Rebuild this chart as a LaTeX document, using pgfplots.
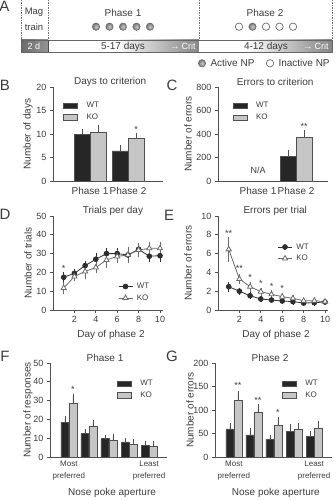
\documentclass[border=0pt]{standalone}
\usepackage{pgfplots}
\pgfplotsset{compat=1.18}
\usepackage{fontspec}
\setmainfont{Liberation Sans}
\newcommand{\fs}[1]{\fontsize{#1}{#1}\selectfont}
\definecolor{txt}{HTML}{3C3C3C}
\definecolor{wtc}{HTML}{262626}
\definecolor{koc}{HTML}{C6C6C6}
\definecolor{edge}{HTML}{505050}
\definecolor{lnc}{HTML}{2E2E2E}
\definecolor{kol}{HTML}{6A6A6A}

\pgfplotsset{
  base/.style={
    scale only axis, height=94pt,
    axis x line*=bottom, axis y line*=left,
    axis line style={edge, line width=0.7pt},
    tick align=outside, major tick length=3pt,
    tick style={edge, line width=0.7pt},
    /pgf/number format/assume math mode=true,
    tick label style={font=\fs{9}, text=txt},
    xlabel style={font=\fs{10}, text=txt},
    ylabel style={font=\fs{10}, text=txt},
    title style={font=\fs{10}, text=txt, anchor=center, yshift=-1pt},
    clip=false,
    legend cell align=left,
    legend style={draw=none, fill=none, font=\fs{8}, text=txt, inner sep=0pt, row sep=2.5pt, nodes={inner sep=1pt}},
  },
  barax/.style={base, ybar=0pt,
    major x tick style={draw=none},
    legend image code/.code={\draw[##1] (0pt,-2.6pt) rectangle (14pt,2.6pt);},
    legend style={/tikz/every odd column/.append style={column sep=8pt}},
  },
  lineax/.style={base,
    legend image code/.code={\draw[mark repeat=2, mark phase=2, ##1] plot coordinates {(0pt,0pt) (7pt,0pt) (14pt,0pt)};},
    legend style={/tikz/every odd column/.append style={column sep=3pt}},
  },
  ebplus/.style={error bars/.cd, y dir=plus, y explicit,
    error bar style={edge, line width=0.6pt},
    error mark options={edge, mark size=2.5pt, line width=0.6pt}},
  wtbar/.style={fill=wtc, draw=edge, line width=0.5pt, ebplus},
  kobar/.style={fill=koc, draw=edge, line width=0.5pt, ebplus},
  ebboth/.style={error bars/.cd, y dir=both, y explicit,
    error bar style={#1, line width=0.6pt, solid},
    error mark options={#1, mark size=2pt, line width=0.6pt}},
  wtline/.style={lnc, line width=0.8pt, mark=*, mark size=2.4pt, mark options={fill=lnc, solid}, ebboth=lnc},
  koline/.style={kol, line width=0.8pt, mark=triangle*, mark size=3pt, mark options={fill=white, draw=kol, solid}, ebboth=kol},
}
\tikzset{star/.style={font=\fs{9}, anchor=base, yshift=-5pt, inner sep=0pt, text=txt},
  plab/.style={font=\fs{15}, text=txt, inner sep=0pt}}

\begin{document}
\begin{tikzpicture}[text=txt]
\useasboundingbox (0pt,0pt) rectangle (336pt,-500pt);
\begin{scope}[x=1pt,y=-1pt]
  % ---------- Panel A ----------
  \foreach \xx in {21,48,199,332}{\draw[black!55, line width=0.5pt, dash pattern=on 1.2pt off 1.3pt] (\xx,0) -- (\xx,40);}
  \shade[left color=black!58, right color=black!42] (21,40) rectangle (48,52);
  \fill[white] (48,40) rectangle (115,52);
  \shade[left color=white, right color=black!48] (115,40) rectangle (199,52);
  \fill[white] (199,40) rectangle (245,52);
  \shade[left color=white, right color=black!48] (245,40) rectangle (332,52);
  \draw[black!60, line width=0.5pt] (21,40) rectangle (332,52);
  \draw[black!70, line width=0.6pt] (48,40) -- (48,52);
  \node[font=\fs{9}, text=white] at (34,46.5) {2 d};
  \node[font=\fs{10}] at (123,46.5) {5-17 days};
  \node[font=\fs{9}, text=white] at (183,46.5) {→ Crit};
  \node[font=\fs{10}] at (266,46.5) {4-12 days};
  \node[font=\fs{9}, text=white] at (316,46.5) {→ Crit};
  \node[font=\fs{9.5}] at (34,12.7) {Mag};
  \node[font=\fs{9.5}] at (34,26.7) {train};
  \node[font=\fs{10}] at (123,12.7) {Phase 1};
  \node[font=\fs{10}] at (265,12.7) {Phase 2};
  \foreach \xx in {96,109.5,123,136.5,150}{\shadedraw[inner color=black!20, outer color=black!55, draw=black!60, line width=0.5pt] (\xx,26.7) circle (3.7pt);}
  \foreach \xx in {239,266,279.5,293}{\draw[black!65, fill=white, line width=0.6pt] (\xx,26.7) circle (3.7pt);}
  \shadedraw[inner color=black!20, outer color=black!55, draw=black!60, line width=0.5pt] (252.5,26.7) circle (3.7pt);
  \shadedraw[inner color=black!20, outer color=black!55, draw=black!60, line width=0.5pt] (202,63.3) circle (3.7pt);
  \node[anchor=west, font=\fs{10}] at (207,63.3) {Active NP};
  \draw[black!65, fill=white, line width=0.6pt] (270,63.3) circle (3.7pt);
  \node[anchor=west, font=\fs{10}] at (275,63.3) {Inactive NP};
  % panel letters
  \node[plab] at (4.5,6) {A};
  \node[plab] at (5,85.5) {B};
  \node[plab] at (172,85.5) {C};
  \node[plab] at (5,214) {D};
  \node[plab] at (169,215) {E};
  \node[plab] at (5,356) {F};
  \node[plab] at (172,356) {G};
\end{scope}

% ---------- Panel B ----------
\begin{axis}[barax, at={(53pt,-181pt)}, anchor=south west, width=110pt, bar width=16pt,
  xmin=0.026, xmax=2.92, ymin=0, ymax=20, ytick={0,5,10,15,20},
  xtick={1,2}, xticklabels={Phase 1,Phase 2}, xticklabel style={font=\fs{10}},
  title={Days to criterion}, title style={at={(axis description cs:0.52,1)}},
  ylabel={Number of days}, ylabel style={at={(axis description cs:-0.227,0.5)}, anchor=center},
  legend style={at={(axis description cs:0.09,0.85)}, anchor=north west}]
\addplot[wtbar] coordinates {(1,9.9) +- (0,0.6) (2,6.4) +- (0,0.7)};
\addplot[kobar] coordinates {(1,10.4) +- (0,1.0) (2,9.0) +- (0,0.75)};
\legend{WT,KO}
\node[star] at ([xshift=8pt]axis cs:2,11.3) {*};
\end{axis}

% ---------- Panel C ----------
\begin{axis}[barax, at={(218pt,-181pt)}, anchor=south west, width=110pt, bar width=16pt,
  xmin=-0.053, xmax=2.84, ymin=0, ymax=800, ytick={0,200,400,600,800},
  xtick={1,2}, xticklabels={Phase 1,Phase 2}, xticklabel style={font=\fs{10}},
  title={Errors to criterion}, title style={at={(axis description cs:0.52,1)}},
  ylabel={Number of errors}, ylabel style={at={(axis description cs:-0.273,0.5)}, anchor=center},
  legend style={at={(axis description cs:0.13,0.85)}, anchor=north west}]
\addplot[wtbar] coordinates {(2,207) +- (0,34)};
\addplot[kobar] coordinates {(2,374) +- (0,37)};
\legend{WT,KO}
\node[font=\fs{9}] at (axis cs:1,95) {N/A};
\node[star] at ([xshift=8pt]axis cs:2,485) {**};
\end{axis}

% ---------- Panel D ----------
\begin{axis}[lineax, at={(53pt,-310pt)}, anchor=south west, width=110pt,
  xmin=0, xmax=10.28, ymin=0, ymax=50, xtick={2,4,6,8,10}, ytick={0,10,20,30,40,50},
  title={Trials per day}, title style={at={(axis description cs:0.545,1)}},
  xlabel={Day of phase 2}, xlabel style={at={(axis description cs:0.527,0)}, anchor=center, yshift=-25pt},
  ylabel={Number of trials}, ylabel style={at={(axis description cs:-0.227,0.5)}, anchor=center},
  legend style={at={(axis description cs:0.59,0.30)}, anchor=north west}]
\addplot[wtline] coordinates {(1,17.4) +- (0,1.5) (2,19.5) +- (0,1.3) (3,23.6) +- (0,1.5) (4,27) +- (0,2.5) (5,30) +- (0,2) (6,30) +- (0,2) (7,29.3) +- (0,2) (8,32.3) +- (0,2) (9,28.6) +- (0,2) (10,28.9) +- (0,2.5)};
\addplot[koline] coordinates {(1,11.7) +- (0,2) (2,17.8) +- (0,1.5) (3,20.5) +- (0,3) (4,22.6) +- (0,2) (5,26.6) +- (0,3) (6,28.5) +- (0,2.5) (7,29.3) +- (0,3) (8,31.9) +- (0,2.5) (9,32.8) +- (0,2.5) (10,32.8) +- (0,2.5)};
\legend{WT,KO}
\node[star] at (axis cs:1,23) {*};
\end{axis}

% ---------- Panel E ----------
\begin{axis}[lineax, at={(218pt,-310pt)}, anchor=south west, width=110pt,
  xmin=0, xmax=10.28, ymin=0, ymax=10, xtick={2,4,6,8,10}, ytick={0,2,4,6,8,10},
  title={Errors per trial}, title style={at={(axis description cs:0.52,1)}},
  xlabel={Day of phase 2}, xlabel style={at={(axis description cs:0.527,0)}, anchor=center, yshift=-25pt},
  ylabel={Number of errors}, ylabel style={at={(axis description cs:-0.273,0.5)}, anchor=center},
  legend style={at={(axis description cs:0.54,0.72)}, anchor=north west}]
\addplot[wtline] coordinates {(1,2.48) +- (0,0.3) (2,2.0) +- (0,0.15) (3,1.52) +- (0,0.15) (4,1.17) +- (0,0.15) (5,1.06) +- (0,0.12) (6,0.96) +- (0,0.1) (7,0.89) +- (0,0.1) (8,0.74) +- (0,0.08) (9,0.78) +- (0,0.1) (10,0.85) +- (0,0.1)};
\addplot[koline] coordinates {(1,6.45) +- (0,1.1) (2,3.3) +- (0,0.35) (3,2.48) +- (0,0.3) (4,1.95) +- (0,0.2) (5,1.67) +- (0,0.2) (6,1.42) +- (0,0.15) (7,1.24) +- (0,0.12) (8,0.99) +- (0,0.1) (9,0.99) +- (0,0.1) (10,0.89) +- (0,0.1)};
\legend{WT,KO}
\node[star] at (axis cs:1,8.3) {**};
\node[star] at (axis cs:2,4.6) {**};
\node[star] at (axis cs:3,3.65) {*};
\node[star] at (axis cs:4,3.0) {*};
\node[star] at (axis cs:5,2.66) {*};
\node[star] at (axis cs:6,2.48) {*};
\end{axis}

% ---------- Panel F ----------
\begin{axis}[barax, at={(50pt,-457pt)}, anchor=south west, width=117pt, bar width=8pt,
  xmin=0.062, xmax=5.89, ymin=0, ymax=50, ytick={0,10,20,30,40,50},
  xtick={1,5}, xticklabels={{Most\\preferred},{Least\\preferred}},
  xticklabel style={align=center, font=\fontsize{8}{12.5}\selectfont, yshift=3pt},
  title={Phase 1}, title style={at={(axis description cs:0.47,1)}},
  xlabel={Nose poke aperture}, xlabel style={at={(axis description cs:0.53,0)}, anchor=center, yshift=-36pt},
  ylabel={Number of responses}, ylabel style={at={(axis description cs:-0.188,0.5)}, anchor=center},
  legend style={at={(axis description cs:0.57,0.83)}, anchor=north west}]
\addplot[wtbar] coordinates {(1,18.5) +- (0,1.8) (2,12.5) +- (0,1.0) (3,9.8) +- (0,0.6) (4,8.0) +- (0,0.6) (5,6.2) +- (0,0.8)};
\addplot[kobar] coordinates {(1,28.5) +- (0,3.8) (2,16.2) +- (0,2.0) (3,8.8) +- (0,2.3) (4,6.6) +- (0,1.5) (5,5.8) +- (0,1.6)};
\legend{WT,KO}
\node[star] at ([xshift=4pt]axis cs:1,37) {*};
\end{axis}

% ---------- Panel G ----------
\begin{axis}[barax, at={(215pt,-457pt)}, anchor=south west, width=117pt, bar width=8pt,
  xmin=0.062, xmax=5.89, ymin=0, ymax=200, ytick={0,50,100,150,200},
  xtick={1,5}, xticklabels={{Most\\preferred},{Least\\preferred}},
  xticklabel style={align=center, font=\fontsize{8}{12.5}\selectfont, yshift=3pt},
  title={Phase 2}, title style={at={(axis description cs:0.47,1)}},
  xlabel={Nose poke aperture}, xlabel style={at={(axis description cs:0.52,0)}, anchor=center, yshift=-36pt},
  ylabel={Number of errors}, ylabel style={at={(axis description cs:-0.214,0.5)}, anchor=center},
  legend style={at={(axis description cs:0.57,0.83)}, anchor=north west}]
\addplot[wtbar] coordinates {(1,60) +- (0,6) (2,47) +- (0,9) (3,37) +- (0,5) (4,54) +- (0,10) (5,44) +- (0,6)};
\addplot[kobar] coordinates {(1,121) +- (0,15) (2,96) +- (0,12) (3,68) +- (0,11) (4,58) +- (0,8) (5,62) +- (0,10)};
\legend{WT,KO}
\node[star] at ([xshift=4pt]axis cs:1,157) {**};
\node[star] at ([xshift=4pt]axis cs:2,125) {**};
\node[star] at ([xshift=4pt]axis cs:3,98) {*};
\end{axis}
\end{tikzpicture}
\end{document}
